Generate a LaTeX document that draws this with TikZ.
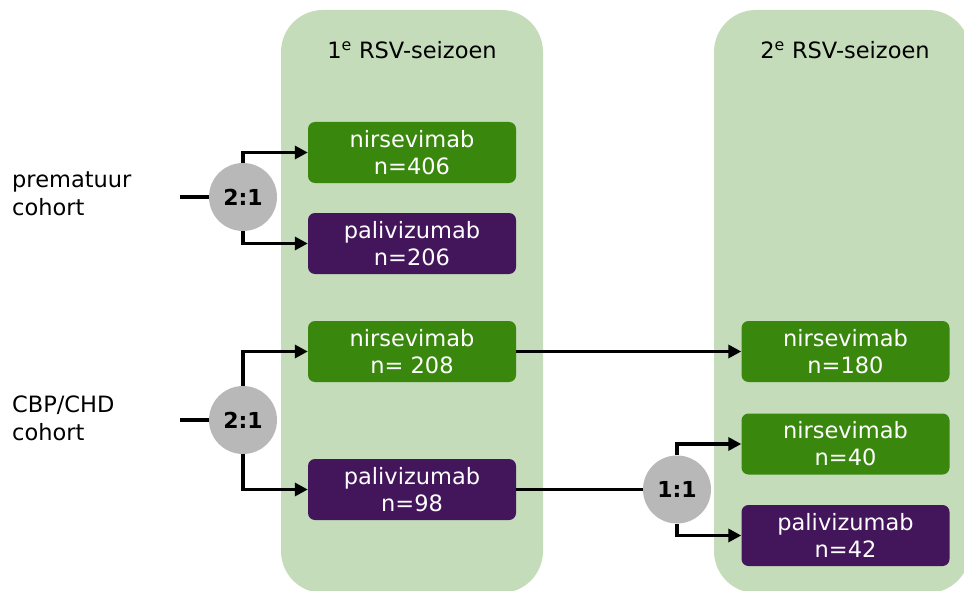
\documentclass[tikz,border=0pt]{standalone}
\usepackage{fontspec}
\setmainfont{DejaVu Sans}
\usetikzlibrary{arrows.meta}
\definecolor{panelgreen}{RGB}{196,220,185}
\definecolor{boxgreen}{RGB}{58,135,14}
\definecolor{boxpurple}{RGB}{67,21,90}
\definecolor{circgray}{RGB}{184,184,184}
\tikzset{
  panel/.style={fill=panelgreen, draw=none, rounded corners=42pt},
  armbox/.style={minimum width=208pt, minimum height=61pt, inner sep=0pt, rounded corners=7pt,
    text=white, align=center, font=\fontsize{22.5}{27}\selectfont},
  gbox/.style={armbox, fill=boxgreen},
  pbox/.style={armbox, fill=boxpurple},
  ratio/.style={circle, fill=circgray, minimum size=68pt, inner sep=0pt, font=\fontsize{22}{26}\selectfont\bfseries},
  title/.style={font=\fontsize{22.5}{27}\selectfont, inner sep=0pt},
  lbl/.style={font=\fontsize{22.5}{28}\selectfont, align=left, inner sep=0pt, anchor=west},
  conn/.style={line width=3.8pt},
  arr/.style={line width=3.8pt, -{Triangle[length=13pt,width=13pt]}},
}
\begin{document}
\begin{tikzpicture}[x=1pt,y=-1pt]
\useasboundingbox (0,0) rectangle (964,591);
\clip (0,0) rectangle (964,591);
% panels
\fill[panel] (281,10) rectangle (543,593);
\fill[panel] (714,10) rectangle (970,593);
\node[title] (t1) at (412,50) {1\textsuperscript{e} RSV-seizoen};
\node[title] (t2) at (845,50) {2\textsuperscript{e} RSV-seizoen};
% labels
\node[lbl] (l1) at (12,194) {prematuur\\cohort};
\node[lbl] (l2) at (12,418) {CBP/CHD\\cohort};
% boxes
\node[gbox] (b406) at (412,152.5) {nirsevimab\\n=406};
\node[pbox] (b206) at (412,243.5) {palivizumab\\n=206};
\node[gbox] (b208) at (412,351.5) {nirsevimab\\n= 208};
\node[pbox] (b98)  at (412,489.5) {palivizumab\\n=98};
\node[gbox] (b180) at (845.5,351.5) {nirsevimab\\n=180};
\node[gbox] (b40)  at (845.5,444) {nirsevimab\\n=40};
\node[pbox] (b42)  at (845.5,535.5) {palivizumab\\n=42};
% ratio circles
\node[ratio] (r1) at (243,197) {2:1};
\node[ratio] (r2) at (243,420) {2:1};
\node[ratio] (r3) at (677,489.5) {1:1};
\coordinate (s1) at (180,197);
\coordinate (s2) at (180,420);
% connectors
\draw[conn] (s1) -- (r1.west);
\draw[conn] (s2) -- (r2.west);
\draw[arr] (r1.north) |- (b406.west);
\draw[arr] (r1.south) |- (b206.west);
\draw[arr] (r2.north) |- (b208.west);
\draw[arr] (r2.south) |- (b98.west);
\draw[arr] (b208.east) -- (b180.west);
\draw[conn] (b98.east) -- (r3.west);
\draw[arr] (r3.north) |- (b40.west);
\draw[arr] (r3.south) |- (b42.west);
\end{tikzpicture}
\end{document}
